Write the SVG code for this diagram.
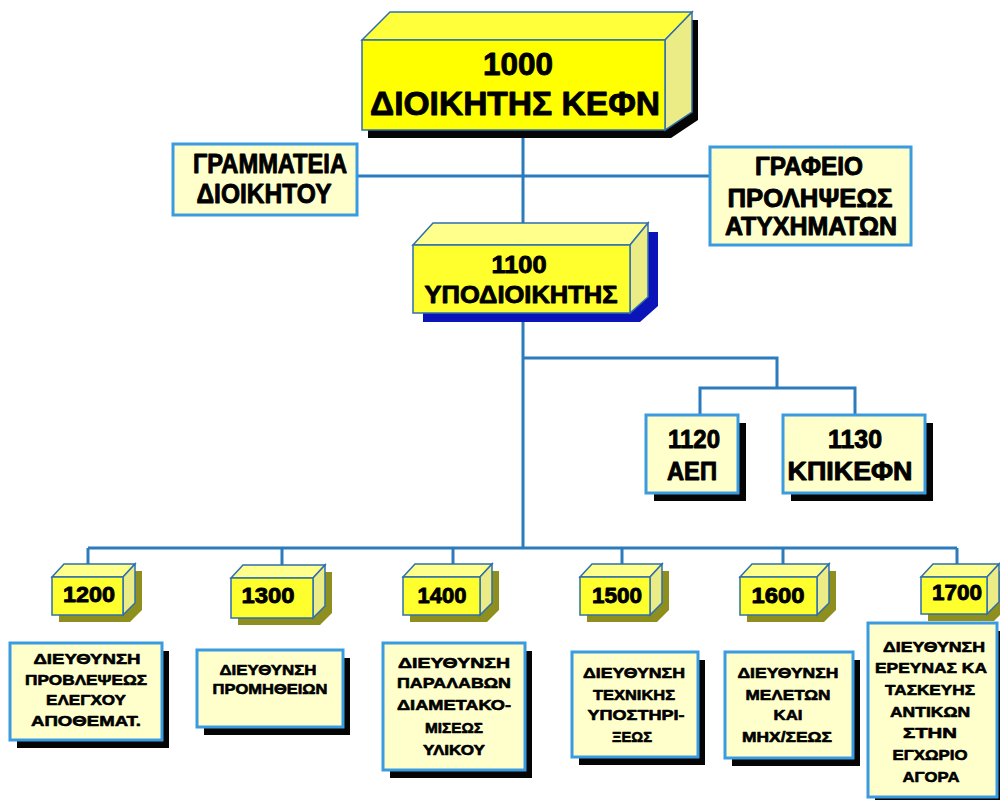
<svg xmlns="http://www.w3.org/2000/svg" width="1000" height="800" viewBox="0 0 1000 800">
<style>
.ln{stroke:#2b7bbd;stroke-width:3;fill:none}
.front{fill:#ffff2e;stroke:#2f6fae;stroke-width:1.5}
.top{fill:#ffff8c;stroke:#2f6fae;stroke-width:1.5}
.side{fill:#ecec86;stroke:#2f6fae;stroke-width:1.5}
.olive{fill:#8f8f1f}
.blk{fill:#050505}
.navy{fill:#0a14b8}
.flat{fill:#ffffcc;stroke:#3a9be0;stroke-width:3}
text{font-family:"Liberation Sans",Arial,sans-serif;font-weight:bold;fill:#000;text-anchor:middle;stroke:#000;stroke-width:0.9;stroke-linejoin:round}
.t15{font-size:15px;stroke-width:0.6}
.t22{font-size:22px}
.t25{font-size:25px}
</style>
<rect width="1000" height="800" fill="#ffffff"/>
<g id="connectors">
<line class="ln" x1="523" y1="130" x2="523" y2="548"/>
<line class="ln" x1="358" y1="176" x2="710" y2="176"/>
<polyline class="ln" points="523,358 777,358 777,388"/>
<polyline class="ln" points="700,415 700,388 855,388 855,415"/>
<line class="ln" x1="88" y1="548" x2="957" y2="548"/>
<line class="ln" x1="88" y1="548" x2="88" y2="565"/>
<line class="ln" x1="282" y1="548" x2="282" y2="566"/>
<line class="ln" x1="453" y1="548" x2="453" y2="565"/>
<line class="ln" x1="622" y1="548" x2="622" y2="565"/>
<line class="ln" x1="783" y1="548" x2="783" y2="565"/>
<line class="ln" x1="957" y1="548" x2="957" y2="565"/>
</g>
<g id="n1000">
<polygon class="blk" points="368,48 396,20 698,20 698,120 671,138 368,138"/>
<polygon class="top" points="362,40 390,12 692,12 665,40" style="fill:#ffff3a"/>
<polygon class="side" points="665,40 692,12 692,112 665,130"/>
<rect class="front" x="362" y="40" width="303" height="90" style="fill:#ffff00"/>
<text x="518" y="75" font-size="32" textLength="70" lengthAdjust="spacingAndGlyphs">1000</text>
<text x="515" y="115" font-size="34" textLength="290" lengthAdjust="spacingAndGlyphs">ΔΙΟΙΚΗΤΗΣ ΚΕΦΝ</text>
</g>
<g id="grammateia">
<rect class="flat" x="173" y="144" width="184" height="71"/>
<text x="270" y="173" font-size="27" textLength="154" lengthAdjust="spacingAndGlyphs">ΓΡΑΜΜΑΤΕΙΑ</text>
<text x="264" y="203" font-size="27" textLength="135" lengthAdjust="spacingAndGlyphs">ΔΙΟΙΚΗΤΟΥ</text>
</g>
<g id="grafeio">
<rect class="flat" x="710" y="147" width="201" height="98"/>
<text x="809" y="175" class="t25" textLength="108" lengthAdjust="spacingAndGlyphs">ΓΡΑΦΕΙΟ</text>
<text x="810" y="207" class="t25" textLength="165" lengthAdjust="spacingAndGlyphs">ΠΡΟΛΗΨΕΩΣ</text>
<text x="811" y="235" class="t25" textLength="172" lengthAdjust="spacingAndGlyphs">ΑΤΥΧΗΜΑΤΩΝ</text>
</g>
<g id="n1100">
<polygon class="navy" points="423,254 443,232 658,232 658,306 640,322 423,322"/>
<polygon class="top" points="413,245 433,223 648,223 630,245"/>
<polygon class="side" points="630,245 648,223 648,297 630,313"/>
<rect class="front" x="413" y="245" width="217" height="68"/>
<text x="519" y="273" font-size="23" textLength="55" lengthAdjust="spacingAndGlyphs">1100</text>
<text x="521" y="303" font-size="24" textLength="193" lengthAdjust="spacingAndGlyphs">ΥΠΟΔΙΟΙΚΗΤΗΣ</text>
</g>
<g id="n1120">
<rect class="blk" x="654" y="423" width="92" height="78"/>
<rect class="flat" x="646" y="415" width="92" height="78"/>
<text x="694" y="448" class="t25" textLength="52" lengthAdjust="spacingAndGlyphs">1120</text>
<text x="692" y="480" class="t25" textLength="50" lengthAdjust="spacingAndGlyphs">ΑΕΠ</text>
</g>
<g id="n1130">
<rect class="blk" x="791" y="423" width="142" height="78"/>
<rect class="flat" x="783" y="415" width="142" height="78"/>
<text x="855" y="448" class="t25" textLength="54" lengthAdjust="spacingAndGlyphs">1130</text>
<text x="850" y="480" class="t25" textLength="125" lengthAdjust="spacingAndGlyphs">ΚΠΙΚΕΦΝ</text>
</g>
<g id="n1200">
<polygon class="olive" points="59,584 71,571 142,571 142,610 130,622 59,622"/>
<polygon class="top" points="52,577 64,564 135,564 123,577"/>
<polygon class="side" points="123,577 135,564 135,603 123,615"/>
<rect class="front" x="52" y="577" width="71" height="38"/>
<text x="89" y="602" class="t22" textLength="52" lengthAdjust="spacingAndGlyphs">1200</text>
</g>
<g id="n1300">
<polygon class="olive" points="238,585 250,572 332,572 332,613 320,625 238,625"/>
<polygon class="top" points="231,578 243,565 325,565 313,578"/>
<polygon class="side" points="313,578 325,565 325,606 313,618"/>
<rect class="front" x="231" y="578" width="82" height="40"/>
<text x="268" y="603" class="t22" textLength="53" lengthAdjust="spacingAndGlyphs">1300</text>
</g>
<g id="n1400">
<polygon class="olive" points="410,584 422,571 499,571 499,610 487,622 410,622"/>
<polygon class="top" points="403,577 415,564 492,564 480,577"/>
<polygon class="side" points="480,577 492,564 492,603 480,615"/>
<rect class="front" x="403" y="577" width="77" height="38"/>
<text x="442" y="603" class="t22" textLength="49" lengthAdjust="spacingAndGlyphs">1400</text>
</g>
<g id="n1500">
<polygon class="olive" points="587,584 599,571 669,571 669,610 657,622 587,622"/>
<polygon class="top" points="580,577 592,564 662,564 650,577"/>
<polygon class="side" points="650,577 662,564 662,603 650,615"/>
<rect class="front" x="580" y="577" width="70" height="38"/>
<text x="617" y="603" class="t22" textLength="50" lengthAdjust="spacingAndGlyphs">1500</text>
</g>
<g id="n1600">
<polygon class="olive" points="747,584 759,571 836,571 836,610 824,622 747,622"/>
<polygon class="top" points="740,577 752,564 829,564 817,577"/>
<polygon class="side" points="817,577 829,564 829,603 817,615"/>
<rect class="front" x="740" y="577" width="77" height="38"/>
<text x="778" y="603" class="t22" textLength="53" lengthAdjust="spacingAndGlyphs">1600</text>
</g>
<g id="n1700">
<polygon class="olive" points="928,584 940,571 1006,571 1006,609 994,621 928,621"/>
<polygon class="top" points="921,577 933,564 999,564 987,577"/>
<polygon class="side" points="987,577 999,564 999,602 987,614"/>
<rect class="front" x="921" y="577" width="66" height="37"/>
<text x="957" y="600" class="t22" textLength="50" lengthAdjust="spacingAndGlyphs">1700</text>
</g>
<g id="d1200">
<rect class="blk" x="17" y="651" width="152" height="97"/>
<rect class="flat" x="10" y="643" width="152" height="97"/>
<text x="87" y="664" class="t15" textLength="107" lengthAdjust="spacingAndGlyphs">ΔΙΕΥΘΥΝΣΗ</text>
<text x="86" y="685" class="t15" textLength="122" lengthAdjust="spacingAndGlyphs">ΠΡΟΒΛΕΨΕΩΣ</text>
<text x="86" y="705" class="t15" textLength="80" lengthAdjust="spacingAndGlyphs">ΕΛΕΓΧΟΥ</text>
<text x="86" y="726" class="t15" textLength="110" lengthAdjust="spacingAndGlyphs">ΑΠΟΘΕΜΑΤ.</text>
</g>
<g id="d1300">
<rect class="blk" x="204" y="658" width="146" height="77"/>
<rect class="flat" x="197" y="650" width="146" height="77"/>
<text x="268" y="675" class="t15" textLength="97" lengthAdjust="spacingAndGlyphs">ΔΙΕΥΘΥΝΣΗ</text>
<text x="270" y="694" class="t15" textLength="115" lengthAdjust="spacingAndGlyphs">ΠΡΟΜΗΘΕΙΩΝ</text>
</g>
<g id="d1400">
<rect class="blk" x="390" y="651" width="142" height="127"/>
<rect class="flat" x="383" y="643" width="142" height="127"/>
<text x="454" y="668" class="t15" textLength="112" lengthAdjust="spacingAndGlyphs">ΔΙΕΥΘΥΝΣΗ</text>
<text x="454" y="688" class="t15" textLength="114" lengthAdjust="spacingAndGlyphs">ΠΑΡΑΛΑΒΩΝ</text>
<text x="454" y="710" class="t15" textLength="114" lengthAdjust="spacingAndGlyphs">ΔΙΑΜΕΤΑΚΟ-</text>
<text x="454" y="733" class="t15" textLength="58" lengthAdjust="spacingAndGlyphs">ΜΙΣΕΩΣ</text>
<text x="454" y="755" class="t15" textLength="62" lengthAdjust="spacingAndGlyphs">ΥΛΙΚΟΥ</text>
</g>
<g id="d1500">
<rect class="blk" x="579" y="660" width="126" height="105"/>
<rect class="flat" x="572" y="652" width="126" height="105"/>
<text x="634" y="678" class="t15" textLength="102" lengthAdjust="spacingAndGlyphs">ΔΙΕΥΘΥΝΣΗ</text>
<text x="634" y="700" class="t15" textLength="82" lengthAdjust="spacingAndGlyphs">ΤΕΧΝΙΚΗΣ</text>
<text x="636" y="720" class="t15" textLength="97" lengthAdjust="spacingAndGlyphs">ΥΠΟΣΤΗΡΙ-</text>
<text x="632" y="742" class="t15" textLength="40" lengthAdjust="spacingAndGlyphs">ΞΕΩΣ</text>
</g>
<g id="d1600">
<rect class="blk" x="732" y="660" width="128" height="106"/>
<rect class="flat" x="725" y="652" width="128" height="106"/>
<text x="788" y="678" class="t15" textLength="101" lengthAdjust="spacingAndGlyphs">ΔΙΕΥΘΥΝΣΗ</text>
<text x="788" y="700" class="t15" textLength="85" lengthAdjust="spacingAndGlyphs">ΜΕΛΕΤΩΝ</text>
<text x="788" y="720" class="t15" textLength="29" lengthAdjust="spacingAndGlyphs">ΚΑΙ</text>
<text x="787" y="742" class="t15" textLength="90" lengthAdjust="spacingAndGlyphs">ΜΗΧ/ΣΕΩΣ</text>
</g>
<g id="d1700">
<rect class="blk" x="875" y="631" width="129" height="174"/>
<rect class="flat" x="868" y="623" width="129" height="174"/>
<text x="934" y="652" class="t15" textLength="102" lengthAdjust="spacingAndGlyphs">ΔΙΕΥΘΥΝΣΗ</text>
<text x="931" y="673" class="t15" textLength="112" lengthAdjust="spacingAndGlyphs">ΕΡΕΥΝΑΣ ΚΑ</text>
<text x="930" y="695" class="t15" textLength="90" lengthAdjust="spacingAndGlyphs">ΤΑΣΚΕΥΗΣ</text>
<text x="930" y="717" class="t15" textLength="80" lengthAdjust="spacingAndGlyphs">ΑΝΤΙΚΩΝ</text>
<text x="930" y="738" class="t15" textLength="54" lengthAdjust="spacingAndGlyphs">ΣΤΗΝ</text>
<text x="930" y="760" class="t15" textLength="75" lengthAdjust="spacingAndGlyphs">ΕΓΧΩΡΙΟ</text>
<text x="931" y="782" class="t15" textLength="57" lengthAdjust="spacingAndGlyphs">ΑΓΟΡΑ</text>
</g>
</svg>
